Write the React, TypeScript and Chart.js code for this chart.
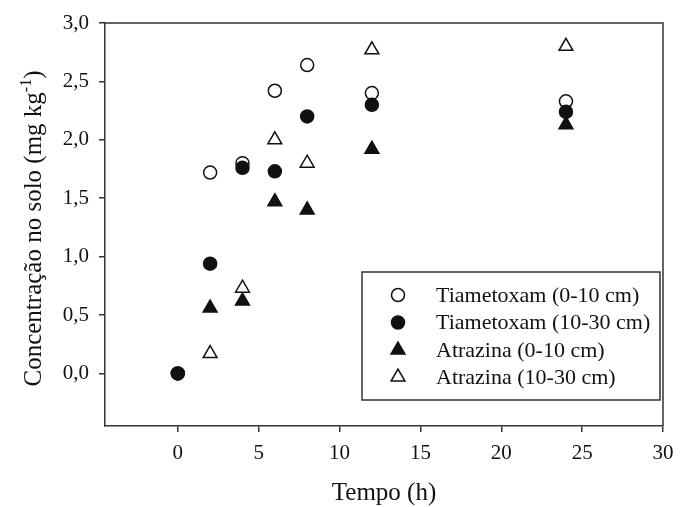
import { useEffect, useRef } from 'react';
import { Chart, registerables } from 'chart.js';

Chart.register(...registerables);

const FONT = '"Liberation Serif", "Times New Roman", serif';

// Data (null = no visible mark)
const timeH = [0, 2, 4, 6, 8, 12, 24];
const tiametoxamTop = [0, 1.72, 1.8, 2.42, 2.64, 2.4, 2.33];
const tiametoxamSub = [0, 0.94, 1.76, 1.73, 2.2, 2.3, 2.24];
const atrazinaTop = [null, 0.56, 0.62, 1.47, 1.4, 1.92, 2.13];
const atrazinaSub = [null, 0.17, 0.73, 2.0, 1.8, 2.77, 2.8];

const seriesLabels = [
  'Tiametoxam (0-10 cm)',
  'Tiametoxam (10-30 cm)',
  'Atrazina (0-10 cm)',
  'Atrazina (10-30 cm)',
];

const xTickValues = [0, 5, 10, 15, 20, 25, 30];
const yTickValues = [0, 0.5, 1.0, 1.5, 2.0, 2.5, 3.0];

const xTitle = 'Tempo (h)';
const yTitleMain = 'Concentração no solo (mg kg';
const yTitleSup = '-1';
const yTitleEnd = ')';

const INK = '#111';
const AXIS = '#333';

const toPoints = (ys: (number | null)[]) => ys.map((y, i) => ({ x: timeH[i], y }));

type Marker = { style: 'circle' | 'triangle'; filled: boolean };
const markers: Marker[] = [
  { style: 'circle', filled: false },
  { style: 'circle', filled: true },
  { style: 'triangle', filled: true },
  { style: 'triangle', filled: false },
];

function drawMarker(ctx: CanvasRenderingContext2D, m: Marker, x: number, y: number) {
  ctx.save();
  ctx.lineWidth = 1.5;
  ctx.strokeStyle = INK;
  ctx.fillStyle = m.filled ? INK : '#fff';
  ctx.beginPath();
  if (m.style === 'circle') {
    ctx.arc(x, y, 6.5, 0, Math.PI * 2);
  } else {
    const r = 8;
    for (let k = 0; k < 3; k++) {
      const a = -Math.PI / 2 + (k * 2 * Math.PI) / 3;
      const px = x + Math.cos(a) * r;
      const py = y + Math.sin(a) * r;
      if (k === 0) ctx.moveTo(px, py);
      else ctx.lineTo(px, py);
    }
    ctx.closePath();
  }
  ctx.fill();
  ctx.stroke();
  ctx.restore();
}

const decorPlugin = {
  id: 'decor',
  afterDraw(chart: any) {
    const ctx: CanvasRenderingContext2D = chart.ctx;
    const { left, right, top, bottom } = chart.chartArea;
    ctx.save();
    // frame top & right
    ctx.strokeStyle = AXIS;
    ctx.lineWidth = 1.5;
    ctx.beginPath();
    ctx.moveTo(left, top);
    ctx.lineTo(right, top);
    ctx.lineTo(right, bottom);
    ctx.stroke();

    // legend
    const bx = 362, by = 272, bw = 298, bh = 128;
    ctx.fillStyle = '#fff';
    ctx.fillRect(bx, by, bw, bh);
    ctx.strokeStyle = AXIS;
    ctx.lineWidth = 1.5;
    ctx.strokeRect(bx, by, bw, bh);
    ctx.font = `22px ${FONT}`;
    ctx.fillStyle = INK;
    ctx.textBaseline = 'middle';
    ctx.textAlign = 'left';
    const rows = [295, 322.5, 350, 377];
    seriesLabels.forEach((lab, i) => {
      drawMarker(ctx, markers[i], 398, rows[i]);
      ctx.fillStyle = INK;
      ctx.fillText(lab, 436, rows[i] + 1);
    });

    // x title
    ctx.font = `25px ${FONT}`;
    ctx.textAlign = 'center';
    ctx.textBaseline = 'middle';
    ctx.fillText(xTitle, (left + right) / 2, 493);

    // y title with superscript
    ctx.translate(33, (top + bottom) / 2 + 4);
    ctx.rotate(-Math.PI / 2);
    const mainFont = `25px ${FONT}`;
    const supFont = `16px ${FONT}`;
    ctx.font = mainFont;
    const w1 = ctx.measureText(yTitleMain).width;
    const w3 = ctx.measureText(yTitleEnd).width;
    ctx.font = supFont;
    const w2 = ctx.measureText(yTitleSup).width;
    const total = w1 + w2 + w3;
    let cx = -total / 2;
    ctx.textAlign = 'left';
    ctx.textBaseline = 'alphabetic';
    ctx.font = mainFont;
    ctx.fillText(yTitleMain, cx, 8);
    cx += w1;
    ctx.font = supFont;
    ctx.fillText(yTitleSup, cx, -2);
    cx += w2;
    ctx.font = mainFont;
    ctx.fillText(yTitleEnd, cx, 8);
    ctx.restore();
  },
};

export default function App() {
  const ref = useRef<HTMLCanvasElement | null>(null);

  useEffect(() => {
    document.body.style.margin = '0';
    const canvas = ref.current;
    if (!canvas) return;
    const mk = (i: number, ys: (number | null)[]) => {
      const m = markers[i];
      return {
        label: seriesLabels[i],
        data: toPoints(ys),
        pointStyle: m.style,
        pointRadius: m.style === 'circle' ? 6.5 : 8,
        pointHoverRadius: m.style === 'circle' ? 6.5 : 8,
        pointBorderWidth: 1.5,
        pointBackgroundColor: m.filled ? INK : '#fff',
        pointBorderColor: INK,
        showLine: false,
        order: m.filled ? 0 : 1,
      };
    };
    const tickFont = { family: FONT, size: 21 };
    const chart = new Chart(canvas, {
      type: 'scatter',
      data: {
        datasets: [
          mk(0, tiametoxamTop),
          mk(1, tiametoxamSub),
          mk(2, atrazinaTop),
          mk(3, atrazinaSub),
        ] as any,
      },
      options: {
        animation: false,
        responsive: false,
        devicePixelRatio: 1,
        layout: { padding: { top: 23, right: 24, left: 0, bottom: 0 } },
        plugins: { legend: { display: false }, tooltip: { enabled: false } },
        scales: {
          x: {
            type: 'linear',
            min: -4.5,
            max: 30,
            afterBuildTicks: (s: any) => {
              s.ticks = xTickValues.map((v) => ({ value: v }));
            },
            afterFit: (s: any) => {
              s.height = 81;
            },
            grid: { drawOnChartArea: false, drawTicks: true, tickLength: 6, color: AXIS, lineWidth: 1.5 },
            border: { display: true, color: AXIS, width: 1.5 },
            ticks: {
              font: tickFont,
              color: INK,
              padding: 9,
              maxRotation: 0,
              autoSkip: false,
              callback: (v: any) => String(v),
            },
          },
          y: {
            type: 'linear',
            min: -0.45,
            max: 3,
            afterBuildTicks: (s: any) => {
              s.ticks = yTickValues.map((v) => ({ value: v }));
            },
            afterFit: (s: any) => {
              s.width = 105;
            },
            grid: { drawOnChartArea: false, drawTicks: true, tickLength: 6, color: AXIS, lineWidth: 1.5 },
            border: { display: true, color: AXIS, width: 1.5 },
            ticks: {
              font: tickFont,
              color: INK,
              padding: 10,
              autoSkip: false,
              callback: (v: any) => Number(v).toFixed(1).replace('.', ','),
            },
          },
        },
      },
      plugins: [decorPlugin],
    });
    return () => chart.destroy();
  }, []);

  return (
    <div style={{ width: 687, height: 507, background: '#fff' }}>
      <canvas ref={ref} width={687} height={507} style={{ display: 'block' }} />
    </div>
  );
}
